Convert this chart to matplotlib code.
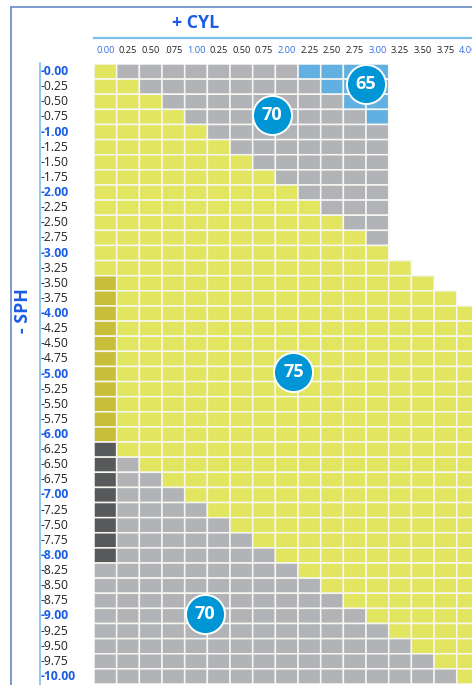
import numpy as np
import matplotlib
matplotlib.use("Agg")
import matplotlib.pyplot as plt
from matplotlib.colors import ListedColormap, BoundaryNorm
from matplotlib.lines import Line2D
import matplotlib.transforms as mtransforms

plt.rcParams['font.family'] = ['Open Sans', 'DejaVu Sans']

# ---------------- data ----------------
cyl_labels = ["0.00", "0.25", "0.50", ".075", "1.00", "0.25", "0.50", "0.75", "2.00",
              "2.25", "2.50", "2.75", "3.00", "3.25", "3.50", "3.75", "4.00"]
cyl_major = [0, 4, 8, 12, 16]

sph_labels = ["-0.00", "-0.25", "-0.50", "-0.75", "-1.00", "-1.25", "-1.50", "-1.75",
              "-2.00", "-2.25", "-2.50", "-2.75", "-3.00", "-3.25", "-3.50", "-3.75",
              "-4.00", "-4.25", "-4.50", "-4.75", "-5.00", "-5.25", "-5.50", "-5.75",
              "-6.00", "-6.25", "-6.50", "-6.75", "-7.00", "-7.25", "-7.50", "-7.75",
              "-8.00", "-8.25", "-8.50", "-8.75", "-9.00", "-9.25", "-9.50", "-9.75",
              "-10.00"]

# cell categories per row: Y yellow, G gray, B blue, O olive, D dark gray
cells = [
    "YGGGGGGGGBBBB",
    "YYGGGGGGGGBBB",
    "YYYGGGGGGGGBB",
    "YYYYGGGGGGGGB",
    "YYYYYGGGGGGGG",
    "YYYYYYGGGGGGG",
    "YYYYYYYGGGGGG",
    "YYYYYYYYGGGGG",
    "YYYYYYYYYGGGG",
    "YYYYYYYYYYGGG",
    "YYYYYYYYYYYGG",
    "YYYYYYYYYYYYG",
    "YYYYYYYYYYYYY",
    "YYYYYYYYYYYYYY",
    "OYYYYYYYYYYYYYY",
    "OYYYYYYYYYYYYYYY",
    "OYYYYYYYYYYYYYYYY",
    "OYYYYYYYYYYYYYYYY",
    "OYYYYYYYYYYYYYYYY",
    "OYYYYYYYYYYYYYYYY",
    "OYYYYYYYYYYYYYYYY",
    "OYYYYYYYYYYYYYYYY",
    "OYYYYYYYYYYYYYYYY",
    "OYYYYYYYYYYYYYYYY",
    "OYYYYYYYYYYYYYYYY",
    "DYYYYYYYYYYYYYYYY",
    "DGYYYYYYYYYYYYYYY",
    "DGGYYYYYYYYYYYYYY",
    "DGGGYYYYYYYYYYYYY",
    "DGGGGYYYYYYYYYYYY",
    "DGGGGGYYYYYYYYYYY",
    "DGGGGGGYYYYYYYYYY",
    "DGGGGGGGYYYYYYYYY",
    "GGGGGGGGGYYYYYYYY",
    "GGGGGGGGGGYYYYYYY",
    "GGGGGGGGGGGYYYYYY",
    "GGGGGGGGGGGGYYYYY",
    "GGGGGGGGGGGGGYYYY",
    "GGGGGGGGGGGGGGYYY",
    "GGGGGGGGGGGGGGGYY",
    "GGGGGGGGGGGGGGGGY",
]

category_codes = ["Y", "G", "B", "O", "D"]
category_colors = ["#e1e55f", "#b1b3b6", "#62b0e1", "#c9be3a", "#58595b"]

# circle badges: (cyl position, sph position, label)
badge_x = [12.0, 7.85, 8.8, 4.9]
badge_y = [1.3, 3.35, 20.4, 36.4]
badge_text = ["65", "70", "75", "70"]

# ---------------- figure ----------------
W, H = 472, 685
fig = plt.figure(figsize=(W / 100, H / 100), dpi=100)

col_w = 22.67
left_px, top_px, bottom_px = 94, 64, 684
ncol, nrow = len(cyl_labels), len(sph_labels)
ax = fig.add_axes([left_px / W, 1 - bottom_px / H, ncol * col_w / W, (bottom_px - top_px) / H])

Z = np.full((nrow, ncol), np.nan)
for r, row in enumerate(cells):
    for c, ch in enumerate(row):
        Z[r, c] = category_codes.index(ch)
Zm = np.ma.masked_invalid(Z)

cmap = ListedColormap(category_colors)
norm = BoundaryNorm(np.arange(-0.5, len(category_colors) + 0.5, 1), cmap.N)
ax.pcolor(np.arange(ncol + 1), np.arange(nrow + 1), Zm, cmap=cmap, norm=norm,
          edgecolors="#f7f7f2", linewidth=1.1)
ax.set_xlim(0, ncol)
ax.set_ylim(nrow, 0)
ax.axis("off")

# badges
ax.scatter(badge_x, badge_y, s=790, color="#0096d6", edgecolors="white",
           linewidths=1.4, zorder=5, clip_on=False)
for bx, by, bt in zip(badge_x, badge_y, badge_text):
    ax.text(bx, by, bt, color="white", fontsize=13, fontweight="bold",
            ha="center", va="center", zorder=6)

blue = "#1b5ce6"
# column labels
tcol = mtransforms.blended_transform_factory(ax.transData, fig.transFigure)
for c, lab in enumerate(cyl_labels):
    ax.text(c + 0.5, 1 - 50.5 / H, lab, transform=tcol, ha="center", va="center",
            fontsize=6.7, color=("#2f6fe0" if c in cyl_major else "#222222"), clip_on=False)

# row labels
trow = mtransforms.blended_transform_factory(fig.transFigure, ax.transData)
for r, lab in enumerate(sph_labels):
    major = (r % 4 == 0)
    ax.text(41 / W, r + 0.5, lab, transform=trow, ha="left", va="center",
            fontsize=8.7, color=(blue if major else "#222222"),
            fontweight=("bold" if major else "normal"), clip_on=False)

# titles
fig.text(195.5 / W, 1 - 22.5 / H, "+ CYL", ha="center", va="center",
         fontsize=12.8, fontweight="bold", color=blue)
fig.text(22.5 / W, 1 - 311 / H, "- SPH", ha="center", va="center", rotation=90,
         fontsize=12.8, fontweight="bold", color=blue)

# frame lines
fig.add_artist(Line2D([10.5 / W, 1], [1 - 7 / H, 1 - 7 / H], color="#6f93c8", lw=1.3))
fig.add_artist(Line2D([11 / W, 11 / W], [1 - 7 / H, 0], color="#6f93c8", lw=1.3))
fig.add_artist(Line2D([94 / W, 1], [1 - 37.7 / H, 1 - 37.7 / H], color="#7cc0ea", lw=1.6))
fig.add_artist(Line2D([39.5 / W, 39.5 / W], [1 - 63 / H, 0], color="#7cc0ea", lw=1.2))

fig.savefig("out.png", dpi=100)
